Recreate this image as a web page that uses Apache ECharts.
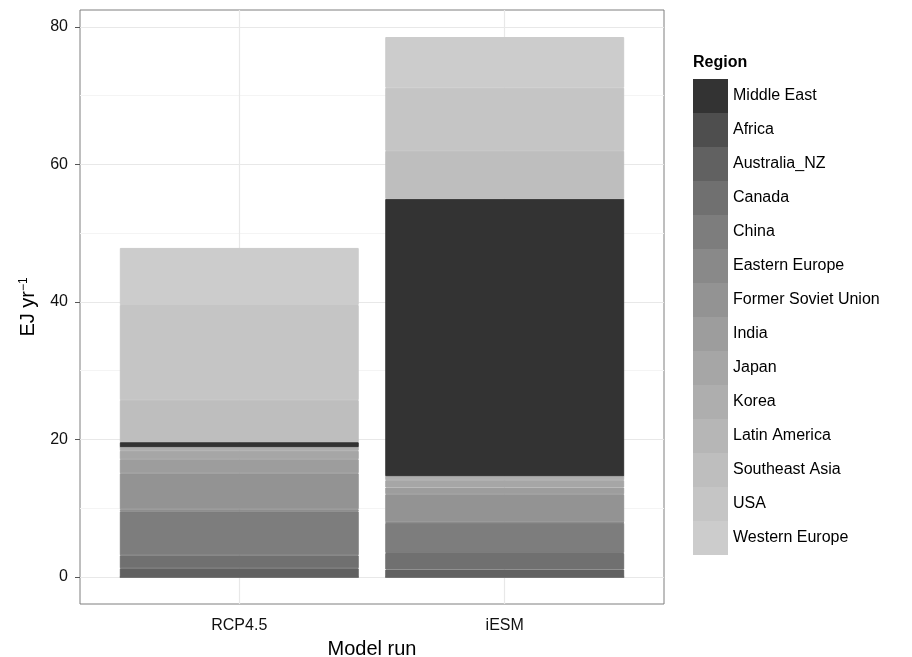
<!DOCTYPE html>
<html>
<head>
<meta charset="utf-8">
<script src="https://cdn.jsdelivr.net/npm/echarts@6/dist/echarts.min.js"></script>
<style>
    body { margin: 0; background: #fff; }
    #main { width: 912px; height: 657px; }
</style>
</head>
<body>
<div id="main"></div>
<script>
// stacking order (bottom to top)
let regions = ['Africa', 'Australia_NZ', 'Canada', 'China', 'Eastern Europe', 'Former Soviet Union', 'India', 'Japan', 'Korea', 'Latin America', 'Middle East', 'Southeast Asia', 'USA', 'Western Europe'];
let rcp45 = [0, 1.27, 1.89, 6.40, 0.29, 5.24, 2.04, 1.21, 0.54, 0, 0.73, 6.11, 13.83, 8.30];
let iesm = [0, 1.08, 2.41, 4.37, 0.10, 4.08, 0.97, 1.07, 0.58, 0, 40.32, 6.98, 9.17, 7.39];
let categories = ['RCP4.5', 'iESM'];
let legendOrder = ['Middle East', 'Africa', 'Australia_NZ', 'Canada', 'China', 'Eastern Europe', 'Former Soviet Union', 'India', 'Japan', 'Korea', 'Latin America', 'Southeast Asia', 'USA', 'Western Europe'];
let yTicks = [0, 20, 40, 60, 80];
let yMinor = [10, 30, 50, 70];

// grey palette, same order as the legend
let greys = ['#333333', '#4e4e4e', '#616161', '#707070', '#7d7d7d', '#898989', '#939393', '#9d9d9d', '#a6a6a6', '#aeaeae', '#b6b6b6', '#bebebe', '#c5c5c5', '#cccccc'];

var chartDom = document.getElementById('main');
var myChart = echarts.init(chartDom);
var font = 'Liberation Sans, Arial, Helvetica, sans-serif';

let total = Math.max(
    rcp45.reduce((a, b) => a + b, 0),
    iesm.reduce((a, b) => a + b, 0)
);
let pad = total * 0.05;
let xPos = categories.map((c, i) => i + 1);

// panel: x from 0.4 to 2.6 (ggplot discrete expansion), bars live in a second grid
let panel = { left: 80, right: 664, top: 10, bottom: 604 };
let unit = (panel.right - panel.left) / 2.2;

let series = regions.map(function (name, i) {
    let c = greys[legendOrder.indexOf(name)];
    return {
        name: name,
        type: 'bar',
        stack: 'total',
        xAxisIndex: 1,
        yAxisIndex: 1,
        barWidth: '90%',
        z: 2,
        // border in the fill colour hides the seams between stacked pieces
        itemStyle: { color: c, borderColor: c, borderWidth: 1 },
        data: [rcp45[i], iesm[i]]
    };
});

// grid lines, drawn behind the bars
series.unshift({
    type: 'line',
    data: [],
    z: 1,
    silent: true,
    markLine: {
        silent: true,
        z: 1,
        symbol: 'none',
        label: { show: false },
        animation: false,
        data: yMinor.map(v => ({ yAxis: v, lineStyle: { color: '#f4f4f4', width: 1, type: 'solid' } }))
            .concat(yTicks.map(v => ({ yAxis: v, lineStyle: { color: '#e8e8e8', width: 1.2, type: 'solid' } })))
            .concat(xPos.map(v => ({ xAxis: v, lineStyle: { color: '#e8e8e8', width: 1.2, type: 'solid' } })))
    }
});

var option = {
    animation: false,
    textStyle: { fontFamily: font },
    title: {
        text: 'Region',
        left: 693,
        top: 55,
        padding: 0,
        textStyle: { fontSize: 16, fontWeight: 'bold', color: '#000', fontFamily: font }
    },
    legend: {
        data: legendOrder,
        orient: 'vertical',
        left: 693,
        top: 79,
        padding: 0,
        itemGap: 0,
        itemWidth: 35,
        itemHeight: 34,
        icon: 'rect',
        selectedMode: false,
        itemStyle: { borderWidth: 0 },
        textStyle: { fontSize: 16, color: '#000', fontFamily: font }
    },
    grid: [
        {
            left: panel.left,
            top: panel.top,
            width: panel.right - panel.left,
            height: panel.bottom - panel.top,
            outerBoundsMode: 'none',
            show: true,
            borderColor: '#7f7f7f',
            borderWidth: 1,
            backgroundColor: '#fff'
        },
        {
            left: panel.left + 0.1 * unit,
            top: panel.top,
            width: 2 * unit,
            height: panel.bottom - panel.top,
            outerBoundsMode: 'none'
        }
    ],
    xAxis: [
        {
            type: 'value',
            gridIndex: 0,
            min: 0.4,
            max: 2.6,
            name: 'Model run',
            nameLocation: 'middle',
            nameGap: 35,
            nameTextStyle: { fontSize: 20, color: '#000', fontFamily: font },
            axisLine: { show: false },
            splitLine: { show: false },
            axisTick: {
                show: true,
                customValues: xPos,
                length: 5,
                lineStyle: { color: '#555' }
            },
            axisLabel: {
                customValues: xPos,
                margin: 14,
                fontSize: 16,
                color: '#111',
                formatter: function (v) {
                    return categories[Math.round(v) - 1] || '';
                }
            }
        },
        {
            type: 'category',
            gridIndex: 1,
            data: categories,
            show: false
        }
    ],
    yAxis: [
        {
            type: 'value',
            gridIndex: 0,
            min: -pad,
            max: total + pad,
            name: '{n|EJ yr}{s|−1}',
            nameLocation: 'middle',
            nameGap: 42,
            nameRotate: 90,
            nameTextStyle: {
                fontFamily: font,
                rich: {
                    n: { fontSize: 20, color: '#000', fontFamily: font },
                    s: { fontSize: 12, color: '#000', fontFamily: font, verticalAlign: 'top', padding: [0, 0, 8, 0] }
                }
            },
            axisLine: { show: false },
            splitLine: { show: false },
            axisTick: {
                show: true,
                customValues: yTicks,
                length: 5,
                lineStyle: { color: '#555' }
            },
            axisLabel: {
                customValues: yTicks,
                margin: 12,
                fontSize: 16,
                color: '#111'
            }
        },
        {
            type: 'value',
            gridIndex: 1,
            min: -pad,
            max: total + pad,
            show: false,
            splitLine: { show: false }
        }
    ],
    series: series
};

option && myChart.setOption(option);
</script>
</body>
</html>
